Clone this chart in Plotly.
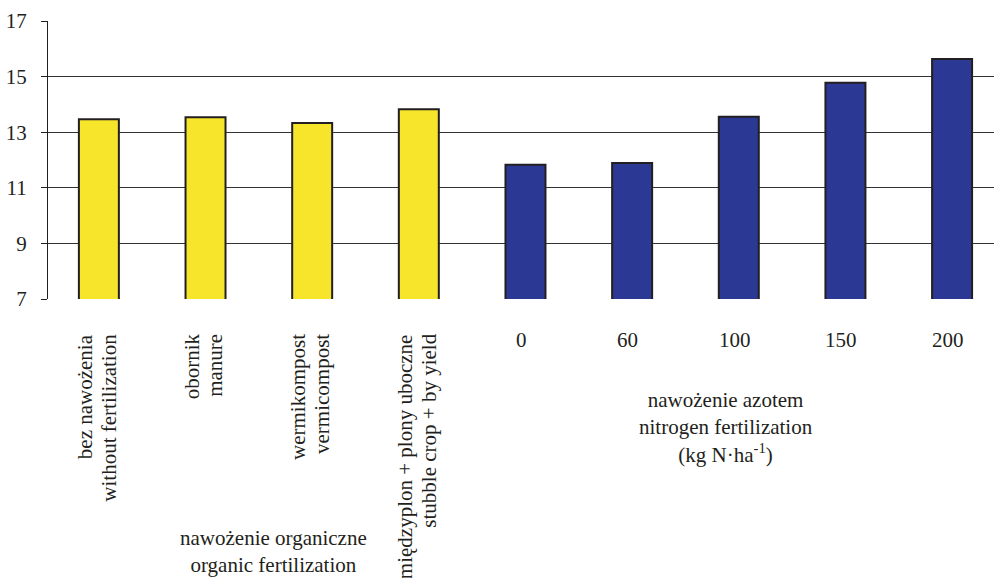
import plotly.graph_objects as go

# ---- data ----
organic_labels = [
    "bez nawożenia<br>without fertilization",
    "obornik<br>manure",
    "wermikompost<br>vermicompost",
    "międzyplon + plony uboczne<br>stubble crop + by yield",
]
organic_values = [13.47, 13.54, 13.33, 13.83]

nitrogen_labels = ["0", "60", "100", "150", "200"]
nitrogen_values = [11.83, 11.89, 13.56, 14.78, 15.63]

y_ticks = [7, 9, 11, 13, 15, 17]

organic_group = "nawożenie organiczne<br>organic fertilization"
nitrogen_group = "nawożenie azotem<br>nitrogen fertilization<br>(kg N·ha<sup>-1</sup>)"

FONT = "Liberation Serif, Times New Roman, serif"
TXT = "#231F20"
FS = 21

n_org = len(organic_values)
x_org = list(range(n_org))
x_nit = list(range(n_org, n_org + len(nitrogen_values)))

fig = go.Figure()
fig.add_trace(go.Bar(
    x=x_org, y=organic_values, width=0.375,
    marker=dict(color="#F6E52B", line=dict(color="#231F20", width=2)),
    showlegend=False,
))
fig.add_trace(go.Bar(
    x=x_nit, y=nitrogen_values, width=0.375,
    marker=dict(color="#2B3894", line=dict(color="#231F20", width=2)),
    showlegend=False,
))

annotations = []
for i, lab in enumerate(organic_labels):
    lines = lab.split("<br>")
    shifts = [-14, 10]
    for line, sh in zip(lines, shifts):
        annotations.append(dict(
            x=x_org[i], y=-0.118, xref="x", yref="paper", xshift=sh,
            text=line, textangle=-90, showarrow=False,
            xanchor="center", yanchor="top",
            font=dict(family=FONT, size=FS, color=TXT),
        ))
for i, lab in enumerate(nitrogen_labels):
    annotations.append(dict(
        x=x_nit[i] - 0.04, y=-0.148, xref="x", yref="paper",
        text=lab, showarrow=False, xanchor="center", yanchor="middle",
        font=dict(family=FONT, size=FS, color=TXT),
    ))
annotations.append(dict(
    x=1.64, y=-0.908, xref="x", yref="paper", text=organic_group,
    showarrow=False, xanchor="center", yanchor="middle",
    font=dict(family=FONT, size=FS, color=TXT),
))
annotations.append(dict(
    x=5.88, y=-0.464, xref="x", yref="paper", text=nitrogen_group,
    showarrow=False, xanchor="center", yanchor="middle",
    font=dict(family=FONT, size=FS, color=TXT),
))

fig.update_layout(
    width=994, height=578,
    margin=dict(l=48, r=0, t=21, b=279, autoexpand=False),
    paper_bgcolor="white", plot_bgcolor="white",
    font=dict(family=FONT, size=FS, color=TXT),
    annotations=annotations,
    xaxis=dict(
        range=[-0.477, 8.393], showticklabels=False, showgrid=False,
        zeroline=False, showline=False, fixedrange=True, automargin=False,
    ),
    yaxis=dict(
        range=[7, 17], tickvals=y_ticks, ticktext=[str(v) for v in y_ticks],
        showgrid=True, gridcolor="#333333", gridwidth=1,
        showline=True, linecolor="#231F20", linewidth=1,
        ticks="outside", ticklen=6, tickcolor="#231F20",
        zeroline=False, ticklabelstandoff=10, automargin=False,
        tickfont=dict(family=FONT, size=FS, color=TXT),
    ),
)

fig.write_html(
    "out.html",
    config={"displayModeBar": False},
    post_script="document.body.style.margin='0';document.body.style.overflow='hidden';",
)
